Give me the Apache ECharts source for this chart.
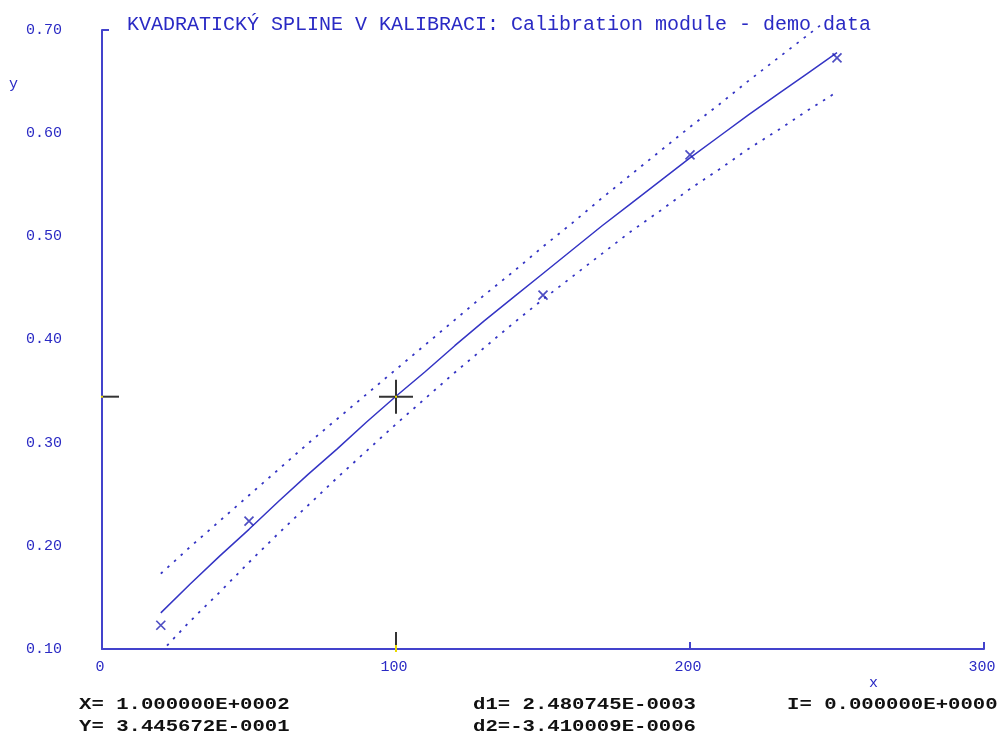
<!DOCTYPE html>
<html>
<head>
<meta charset="utf-8">
<script src="https://cdn.jsdelivr.net/npm/echarts@6/dist/echarts.min.js"></script>
<style>
  html, body { margin: 0; padding: 0; background: #ffffff; }
  #chart { width: 1003px; height: 736px; }
</style>
</head>
<body>
<div id="chart"></div>
<script>
// Calibration standards (concentration x, response y)
const pointX = [20, 50, 150, 200, 250];
const pointY = [0.123, 0.224, 0.443, 0.579, 0.673];

// Fitted quadratic spline, sampled along x
const curveX = [20, 30, 40, 50, 60, 70, 80, 90, 100, 110, 120, 130, 140, 150, 160, 170, 180, 190, 200, 210, 220, 230, 240, 250];
const curveY = [0.135, 0.163, 0.190, 0.216, 0.243, 0.269, 0.294, 0.320, 0.345, 0.369, 0.394, 0.418, 0.441, 0.464, 0.487, 0.510, 0.532, 0.554, 0.576, 0.597, 0.618, 0.638, 0.658, 0.678];

// Confidence band limits
const upperX = [20, 30, 40, 50, 60, 70, 80, 90, 100, 110, 120, 130, 140, 150, 160, 170, 180, 190, 200, 210, 220, 230, 240, 245];
const upperY = [0.173, 0.199, 0.224, 0.249, 0.274, 0.299, 0.323, 0.347, 0.371, 0.395, 0.419, 0.443, 0.466, 0.490, 0.513, 0.537, 0.560, 0.583, 0.606, 0.628, 0.651, 0.673, 0.695, 0.706];
const lowerX = [20, 30, 40, 50, 60, 70, 80, 90, 100, 110, 120, 130, 140, 150, 160, 170, 180, 190, 200, 210, 220, 230, 240, 250];
const lowerY = [0.097, 0.127, 0.155, 0.184, 0.212, 0.239, 0.266, 0.292, 0.318, 0.343, 0.368, 0.392, 0.416, 0.439, 0.461, 0.483, 0.505, 0.525, 0.546, 0.565, 0.585, 0.603, 0.622, 0.640];

// Cursor position and readouts
const cursorX = 100;
const cursorY = 0.3445672;
const readoutLeft = ['X= 1.000000E+0002', 'Y= 3.445672E-0001'];
const readoutMid = ['d1= 2.480745E-0003', 'd2=-3.410009E-0006'];
const readoutRight = ['I= 0.000000E+0000'];

const titleText = 'KVADRATICKÝ SPLINE V KALIBRACI: Calibration module - demo data';
const xTicks = { min: 0, max: 300, step: 100 };
const yTicks = { min: 0.1, max: 0.7, step: 0.1 };

const zip = (xs, ys) => xs.map((x, i) => [x, ys[i]]);

const BLUE_TEXT = '#2a2ac4';
const BLUE_LINE = '#3434c4';
const AXIS_BLUE = '#4343cc';
const MONO = '"Liberation Mono", "DejaVu Sans Mono", monospace';

const chart = echarts.init(document.getElementById('chart'), null, { renderer: 'canvas' });

function readoutText(lines, x, y0) {
  return lines.map((t, i) => ({
    type: 'text',
    x: x,
    y: y0 + i * 22,
    scaleX: 1.29,
    style: {
      text: t,
      font: 'bold 16px ' + MONO,
      fill: '#111111',
      textVerticalAlign: 'middle',
      verticalAlign: 'middle'
    }
  }));
}

const option = {
  animation: false,
  backgroundColor: '#ffffff',
  title: {
    text: titleText,
    left: 122,
    top: 10,
    textStyle: {
      fontFamily: MONO,
      fontSize: 20,
      fontWeight: 'normal',
      color: BLUE_TEXT
    }
  },
  grid: { left: 102, right: 19, top: 30, bottom: 87, containLabel: false },
  xAxis: {
    type: 'value',
    min: xTicks.min,
    max: xTicks.max,
    interval: xTicks.step,
    axisLine: { show: true, lineStyle: { color: AXIS_BLUE, width: 2 } },
    axisTick: { show: true, inside: true, length: 7, lineStyle: { color: AXIS_BLUE, width: 2 } },
    splitLine: { show: false },
    axisLabel: {
      margin: 11,
      fontFamily: MONO,
      fontSize: 15,
      color: BLUE_TEXT,
      padding: [0, 4, 0, 0]
    }
  },
  yAxis: {
    type: 'value',
    min: yTicks.min,
    max: yTicks.max,
    interval: yTicks.step,
    axisLine: { show: true, lineStyle: { color: AXIS_BLUE, width: 2 } },
    axisTick: { show: false },
    splitLine: { show: false },
    axisLabel: {
      margin: 40,
      fontFamily: MONO,
      fontSize: 15,
      color: BLUE_TEXT,
      formatter: v => v.toFixed(2)
    }
  },
  graphic: [
    { type: 'text', x: 9, y: 84, style: { text: 'y', font: '15px ' + MONO, fill: BLUE_TEXT, textVerticalAlign: 'middle', verticalAlign: 'middle' } },
    { type: 'text', x: 869, y: 683, style: { text: 'x', font: '15px ' + MONO, fill: BLUE_TEXT, textVerticalAlign: 'middle', verticalAlign: 'middle' } }
  ]
    .concat(readoutText(readoutLeft, 79, 705))
    .concat(readoutText(readoutMid, 473, 705))
    .concat(readoutText(readoutRight, 787, 705)),
  series: [
    {
      name: 'spline',
      type: 'line',
      data: zip(curveX, curveY),
      showSymbol: false,
      symbol: 'none',
      lineStyle: { color: BLUE_LINE, width: 1.5 },
      z: 3
    },
    {
      name: 'upper',
      type: 'line',
      data: zip(upperX, upperY),
      symbol: 'none',
      clip: false,
      lineStyle: { color: BLUE_LINE, width: 1.8, type: [2.5, 6.5] },
      z: 2
    },
    {
      name: 'lower',
      type: 'line',
      data: zip(lowerX, lowerY),
      symbol: 'none',
      lineStyle: { color: BLUE_LINE, width: 1.8, type: [2.5, 6.5] },
      z: 2
    },
    {
      name: 'standards',
      type: 'scatter',
      data: zip(pointX, pointY),
      symbol: 'path://M0,0L10,10M10,0L0,10',
      symbolSize: 9,
      itemStyle: { color: 'none', borderColor: '#2222b4', borderWidth: 1.7 },
      z: 4
    },
    {
      name: 'cursor',
      type: 'custom',
      clip: false,
      z: 5,
      data: [[cursorX, cursorY]],
      renderItem: function (params, api) {
        const c = api.coord([api.value(0), api.value(1)]);
        const left = api.coord([xTicks.min, api.value(1)]);
        const bottom = api.coord([api.value(0), yTicks.min]);
        const top = api.coord([xTicks.min, yTicks.max]);
        const dark = { stroke: '#333333', lineWidth: 2 };
        const yellow = { stroke: '#e8d800', lineWidth: 2 };
        return {
          type: 'group',
          children: [
            { type: 'line', shape: { x1: c[0] - 17, y1: c[1], x2: c[0] + 17, y2: c[1] }, style: dark },
            { type: 'line', shape: { x1: c[0], y1: c[1] - 17, x2: c[0], y2: c[1] + 17 }, style: dark },
            { type: 'rect', shape: { x: c[0] - 1, y: c[1] - 1, width: 2, height: 2 }, style: { fill: '#e8d800' } },
            { type: 'line', shape: { x1: left[0] + 1, y1: left[1], x2: left[0] + 17, y2: left[1] }, style: dark },
            { type: 'rect', shape: { x: left[0] - 1, y: left[1] - 1, width: 2, height: 2 }, style: { fill: '#e8d800' } },
            { type: 'line', shape: { x1: bottom[0], y1: bottom[1] - 17, x2: bottom[0], y2: bottom[1] - 4 }, style: dark },
            { type: 'line', shape: { x1: bottom[0], y1: bottom[1] - 4, x2: bottom[0], y2: bottom[1] + 3 }, style: yellow },
            { type: 'line', shape: { x1: top[0], y1: top[1], x2: top[0] + 7, y2: top[1] }, style: { stroke: AXIS_BLUE, lineWidth: 2 } }
          ]
        };
      }
    }
  ]
};

chart.setOption(option);
</script>
</body>
</html>
